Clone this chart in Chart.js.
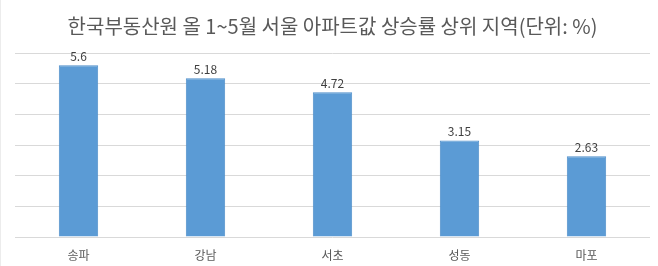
<!DOCTYPE html>
<html>
<head>
<meta charset="utf-8">
<script src="https://cdn.jsdelivr.net/npm/chart.js@4"></script>
<style>
  html, body { margin: 0; padding: 0; background: #fff; overflow: hidden; }
  #wrap { width: 657px; height: 266px; position: relative; border-left: 1px solid #ececec; }
</style>
</head>
<body>
<div id="wrap"><canvas id="chart"></canvas></div>
<script>
// 서울 아파트값 상승률 상위 지역
const regions = ['송파', '강남', '서초', '성동', '마포'];
const riseRates = [5.6, 5.18, 4.72, 3.15, 2.63];
const chartTitle = '한국부동산원 올 1~5월 서울 아파트값 상승률 상위 지역(단위: %)';

const fontFamily = '"Noto Sans CJK KR", "Noto Sans", sans-serif';

// value labels above each bar
const valueLabels = {
  id: 'valueLabels',
  afterDatasetsDraw(chart) {
    const ctx = chart.ctx;
    const meta = chart.getDatasetMeta(0);
    ctx.save();
    ctx.font = '12px ' + fontFamily;
    ctx.fillStyle = '#404040';
    ctx.textAlign = 'center';
    ctx.textBaseline = 'bottom';
    meta.data.forEach((bar, i) => {
      ctx.fillText(String(riseRates[i]), bar.x, bar.y - 3);
    });
    ctx.restore();
  }
};

const ctx = document.getElementById('chart').getContext('2d');
new Chart(ctx, {
  type: 'bar',
  data: {
    labels: regions,
    datasets: [{
      data: riseRates,
      backgroundColor: '#5b9bd5',
      borderColor: '#4f8fcb',
      borderWidth: 1,
      categoryPercentage: 1,
      barPercentage: 0.31,
    }],
  },
  options: {
    responsive: true,
    maintainAspectRatio: false,
    animation: false,
    layout: { padding: { left: 14, right: 8, top: 0, bottom: 4 } },
    plugins: {
      legend: { display: false },
      tooltip: { enabled: false },
      title: {
        display: true,
        text: chartTitle,
        color: '#595959',
        font: { family: fontFamily, size: 20, weight: 'normal' },
        padding: { top: 14, bottom: 15 },
      },
    },
    scales: {
      x: {
        grid: { display: false },
        border: { display: false },
        ticks: {
          color: '#595959',
          font: { family: fontFamily, size: 12 },
          padding: 3,
        },
        afterFit(scale) { scale.height = 25; },
      },
      y: {
        min: 0,
        max: 6,
        ticks: { display: false, stepSize: 1 },
        grid: { color: '#d9d9d9', drawTicks: false },
        border: { display: false },
      },
    },
  },
  plugins: [valueLabels],
});
</script>
</body>
</html>
